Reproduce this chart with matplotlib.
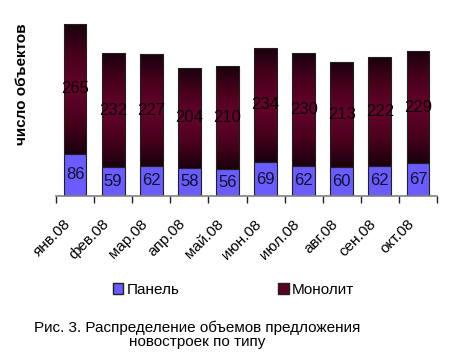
import numpy as np
import matplotlib
matplotlib.use("Agg")
import matplotlib.pyplot as plt
from matplotlib.colors import LinearSegmentedColormap
from matplotlib.patches import Patch

months = ["янв.08", "фев.08", "мар.08", "апр.08", "май.08", "июн.08",
          "июл.08", "авг.08", "сен.08", "окт.08"]
panel = [86, 59, 62, 58, 56, 69, 62, 60, 62, 67]
monolith = [265, 232, 227, 204, 210, 234, 230, 213, 222, 229]

plt.rcParams['font.family'] = ['Liberation Sans', 'DejaVu Sans']

fig = plt.figure(figsize=(4.49, 3.64), dpi=100)
ax = fig.add_axes([56/449, 1-196/364, (437-56)/449, 196/364])

x = np.arange(len(months))
panel_color = "#6a5cff"
w = 0.6
b1 = ax.bar(x, panel, w, color=panel_color, edgecolor="#202020", linewidth=0.8)
b2 = ax.bar(x, monolith, w, bottom=panel, color="none", edgecolor="#202020", linewidth=0.8)

cmap = LinearSegmentedColormap.from_list("mono", ["#1a000e", "#4a001c", "#65042c", "#4a001c", "#1a000e"])
grad = np.linspace(0, 1, 256).reshape(-1, 1)
for rect in b2:
    x0, y0 = rect.get_x(), rect.get_y()
    im = ax.imshow(grad, cmap=cmap, aspect='auto', origin='upper',
                   extent=[x0, x0 + rect.get_width(), y0, y0 + rect.get_height()], zorder=1.5)
    im.set_clip_path(rect)
    rect.set_zorder(2)

for i in range(len(months)):
    ax.text(x[i], panel[i] / 2, str(panel[i]), ha='center', va='center', fontsize=12, color='#101030', zorder=3)
    ax.text(x[i], panel[i] + monolith[i] / 2, str(monolith[i]), ha='center', va='center', fontsize=12, color='#100008', zorder=3)

ax.set_xlim(-0.5, len(months) - 0.5)
ax.set_ylim(0, 400)
ax.set_yticks([])
for s in ['top', 'right', 'left']:
    ax.spines[s].set_visible(False)
ax.spines['bottom'].set_color('#808080')
ax.spines['bottom'].set_linewidth(1.2)
ax.set_xticks(x)
ax.set_xticklabels(months, rotation=45, ha='right', va='top', rotation_mode='anchor', fontsize=11)
ax.tick_params(axis='x', which='major', length=0, pad=15)
ax.set_xticks(np.arange(-0.5, len(months)), minor=True)
ax.tick_params(axis='x', which='minor', length=5, color='#202020', width=1)
for lab in ax.get_xticklabels():
    lab.set_transform(lab.get_transform() + matplotlib.transforms.ScaledTranslation(-11/100, 0, fig.dpi_scale_trans))

fig.text(22/449, 1-84/364, "число объектов", rotation=90, ha='center', va='center', fontsize=11, fontweight='bold')

handles = [Patch(facecolor=panel_color, edgecolor='#202020'),
           Patch(facecolor='#5a0025', edgecolor='#202020')]
fig.legend(handles, ["Панель", "Монолит"], ncol=2, loc='center', bbox_to_anchor=(0.52, 1-290/364),
           frameon=False, fontsize=11, handlelength=0.7, handleheight=0.7, handletextpad=0.2, columnspacing=6.5)

fig.text(0.44, 1-335/364, "Рис. 3. Распределение объемов предложения\nновостроек по типу",
         ha='center', va='center', fontsize=11, linespacing=1.05)

fig.savefig("out.png", dpi=100)
